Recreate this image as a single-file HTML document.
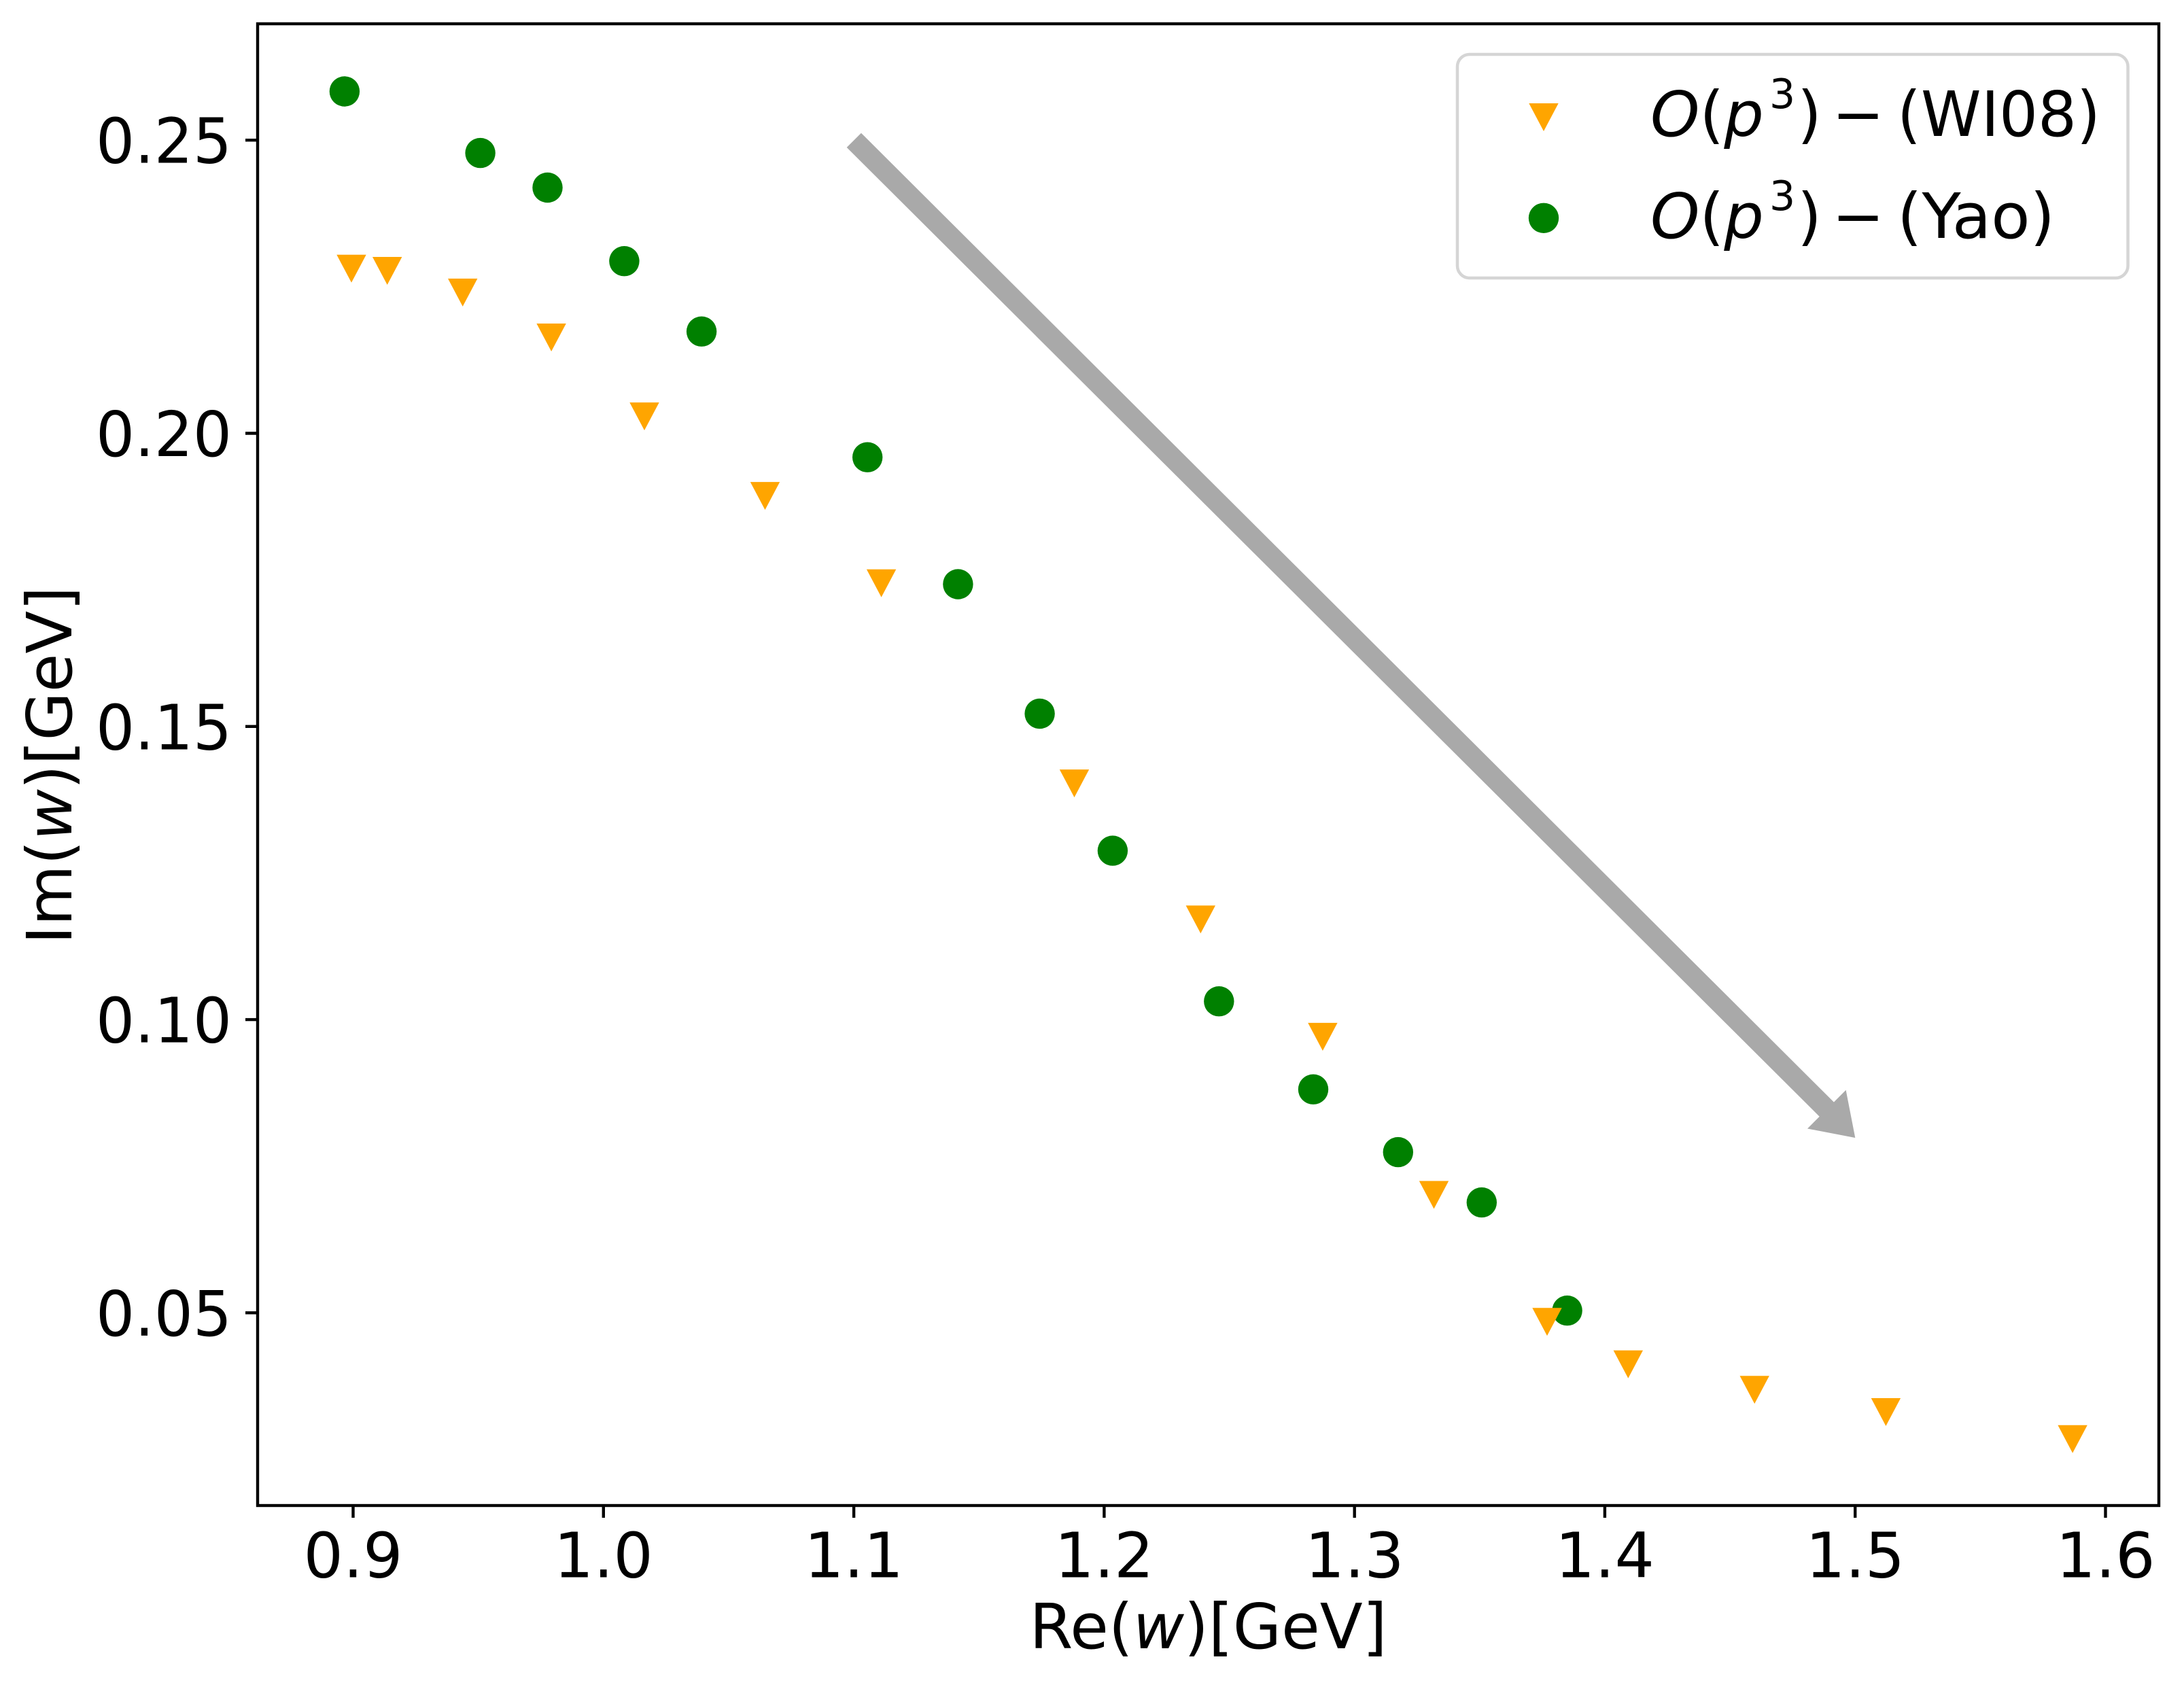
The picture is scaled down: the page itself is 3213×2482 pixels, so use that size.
<!DOCTYPE html>
<html>
<head>
<meta charset="utf-8">
<style>
html,body{margin:0;padding:0;background:#fff;}
svg{display:block;}
text{font-family:"DejaVu Sans","Liberation Sans",sans-serif;fill:#000;}
</style>
</head>
<body>
<svg width="3213" height="2482" viewBox="0 0 3213 2482" xmlns="http://www.w3.org/2000/svg">
<rect x="0" y="0" width="3213" height="2482" fill="#fff"/>

<!-- arrow -->
<polygon fill="#a9a9a9" points="1266.9,195.7 2697.9,1621.5 2715.6,1603.7 2729.3,1674 2659.0,1660.5 2676.7,1642.7 1245.7,216.9"/>

<!-- green circles -->
<g fill="#008000">
<circle cx="506.9" cy="134.5" r="22.2"/>
<circle cx="706.6" cy="225.1" r="22.2"/>
<circle cx="805.5" cy="276.0" r="22.2"/>
<circle cx="918.4" cy="384.2" r="22.2"/>
<circle cx="1032.1" cy="487.7" r="22.2"/>
<circle cx="1276.2" cy="672.7" r="22.2"/>
<circle cx="1409.4" cy="859.5" r="22.2"/>
<circle cx="1529.6" cy="1050.0" r="22.2"/>
<circle cx="1636.9" cy="1251.6" r="22.2"/>
<circle cx="1793.3" cy="1473.2" r="22.2"/>
<circle cx="1932.0" cy="1602.7" r="22.2"/>
<circle cx="2056.8" cy="1695.1" r="22.2"/>
<circle cx="2179.8" cy="1769.1" r="22.2"/>
<circle cx="2305.6" cy="1928.2" r="22.2"/>
</g>

<!-- orange triangles -->
<defs>
<polygon id="tri" points="-21.7,-20.5 21.7,-20.5 0,20.5" fill="#ffa500"/>
</defs>
<g>
<use href="#tri" x="517.0" y="395.3"/>
<use href="#tri" x="569.7" y="398.5"/>
<use href="#tri" x="680.7" y="430.4"/>
<use href="#tri" x="811.1" y="496.5"/>
<use href="#tri" x="948.0" y="612.6"/>
<use href="#tri" x="1125.5" y="729.6"/>
<use href="#tri" x="1296.6" y="858.1"/>
<use href="#tri" x="1580.5" y="1152.6"/>
<use href="#tri" x="1766.3" y="1352.8"/>
<use href="#tri" x="1945.9" y="1525.4"/>
<use href="#tri" x="2109.5" y="1758.0"/>
<use href="#tri" x="2276.0" y="1944.8"/>
<use href="#tri" x="2395.3" y="2007.2"/>
<use href="#tri" x="2581.2" y="2044.7"/>
<use href="#tri" x="2774.4" y="2077.5"/>
<use href="#tri" x="3049.1" y="2117.3"/>
</g>

<!-- legend -->
<rect x="2144" y="80" width="986.5" height="329" rx="18" ry="18" fill="#fff" stroke="#d5d5d5" stroke-width="4.5"/>
<use href="#tri" x="2271" y="172.5"/>
<circle cx="2271" cy="320.8" r="22.2" fill="#008000"/>

<text font-size="92" y="200"><tspan x="2428" font-style="italic">O</tspan><tspan>(</tspan><tspan font-style="italic">p</tspan></text>
<text font-size="60" x="2603" y="159">3</text>
<text font-size="92" y="200"><tspan x="2644">)</tspan><tspan x="2695">−</tspan></text>
<text font-size="92" x="2791" y="200" textLength="299" lengthAdjust="spacingAndGlyphs">(WI08)</text>

<text font-size="92" y="350"><tspan x="2428" font-style="italic">O</tspan><tspan>(</tspan><tspan font-style="italic">p</tspan></text>
<text font-size="60" x="2603" y="309">3</text>
<text font-size="92" y="350"><tspan x="2644">)</tspan><tspan x="2695">−</tspan></text>
<text font-size="92" x="2791" y="350" textLength="232" lengthAdjust="spacingAndGlyphs">(Yao)</text>

<!-- axes spines -->
<rect x="379" y="35" width="2797" height="2180" fill="none" stroke="#000" stroke-width="4.4"/>

<!-- y ticks -->
<g stroke="#000" stroke-width="4.4">
<line x1="361" y1="206.2" x2="379" y2="206.2"/>
<line x1="361" y1="637.5" x2="379" y2="637.5"/>
<line x1="361" y1="1068.8" x2="379" y2="1068.8"/>
<line x1="361" y1="1500.1" x2="379" y2="1500.1"/>
<line x1="361" y1="1931.4" x2="379" y2="1931.4"/>
</g>
<g font-size="92">
<text x="141" y="239.7" textLength="200" lengthAdjust="spacingAndGlyphs">0.25</text>
<text x="141" y="671.0" textLength="200" lengthAdjust="spacingAndGlyphs">0.20</text>
<text x="141" y="1102.3" textLength="200" lengthAdjust="spacingAndGlyphs">0.15</text>
<text x="141" y="1533.6" textLength="200" lengthAdjust="spacingAndGlyphs">0.10</text>
<text x="141" y="1964.9" textLength="200" lengthAdjust="spacingAndGlyphs">0.05</text>
</g>

<!-- x ticks -->
<g stroke="#000" stroke-width="4.4">
<line x1="519.5" y1="2215" x2="519.5" y2="2233"/>
<line x1="887.8" y1="2215" x2="887.8" y2="2233"/>
<line x1="1256.1" y1="2215" x2="1256.1" y2="2233"/>
<line x1="1624.4" y1="2215" x2="1624.4" y2="2233"/>
<line x1="1992.7" y1="2215" x2="1992.7" y2="2233"/>
<line x1="2360.9" y1="2215" x2="2360.9" y2="2233"/>
<line x1="2729.2" y1="2215" x2="2729.2" y2="2233"/>
<line x1="3097.5" y1="2215" x2="3097.5" y2="2233"/>
</g>
<g font-size="92">
<text x="446.5" y="2320.7" textLength="146" lengthAdjust="spacingAndGlyphs">0.9</text>
<text x="814.8" y="2320.7" textLength="146" lengthAdjust="spacingAndGlyphs">1.0</text>
<text x="1183.1" y="2320.7" textLength="146" lengthAdjust="spacingAndGlyphs">1.1</text>
<text x="1551.4" y="2320.7" textLength="146" lengthAdjust="spacingAndGlyphs">1.2</text>
<text x="1919.7" y="2320.7" textLength="146" lengthAdjust="spacingAndGlyphs">1.3</text>
<text x="2287.9" y="2320.7" textLength="146" lengthAdjust="spacingAndGlyphs">1.4</text>
<text x="2656.2" y="2320.7" textLength="146" lengthAdjust="spacingAndGlyphs">1.5</text>
<text x="3024.5" y="2320.7" textLength="146" lengthAdjust="spacingAndGlyphs">1.6</text>
</g>

<!-- axis labels -->
<text font-size="92" x="1777.5" y="2425" text-anchor="middle">Re(<tspan font-style="italic">w</tspan>)[GeV]</text>
<text font-size="92" text-anchor="middle" transform="translate(105,1126) rotate(-90)">Im(<tspan font-style="italic">w</tspan>)[GeV]</text>
</svg>
</body>
</html>
